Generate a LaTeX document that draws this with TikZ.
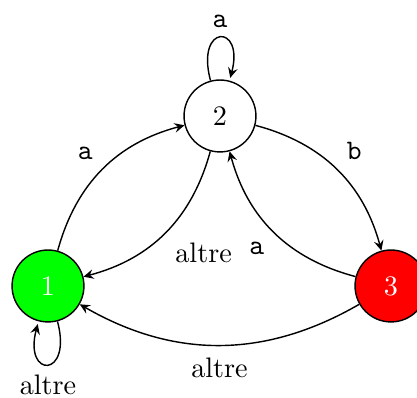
\documentclass[tikz,border=0pt]{standalone}
\usetikzlibrary{automata,arrows.meta}
\begin{document}
\begin{tikzpicture}[x=0.3546pt,y=0.3546pt, >={Stealth[length=3.6pt,width=3.4pt,inset=1.3pt]}, auto,
  line width=0.5pt,
  st/.style={circle,draw,minimum size=25.5pt,inner sep=0pt},
  tr/.style={->,bend left=30}]
\useasboundingbox (0,0) rectangle (417,398);
\node[st,fill=green,text=white] (q1) at (48,112) {1};
\node[st] (q2) at (220,282) {2};
\node[st,fill=red,text=white] (q3) at (391,112) {3};
\path (q1) edge[tr] node {\texttt{a}} (q2)
      (q2) edge[tr] node {\texttt{b}} (q3)
      (q2) edge[tr] node {altre} (q1)
      (q3) edge[tr] node {\texttt{a}} (q2)
      (q3) edge[tr] node[yshift=-1pt] {altre} (q1)
      (q1) edge[->,loop below] node[yshift=-0.3pt] {altre} (q1)
      (q2) edge[->,loop above] node {\texttt{a}} (q2);
\end{tikzpicture}
\end{document}
